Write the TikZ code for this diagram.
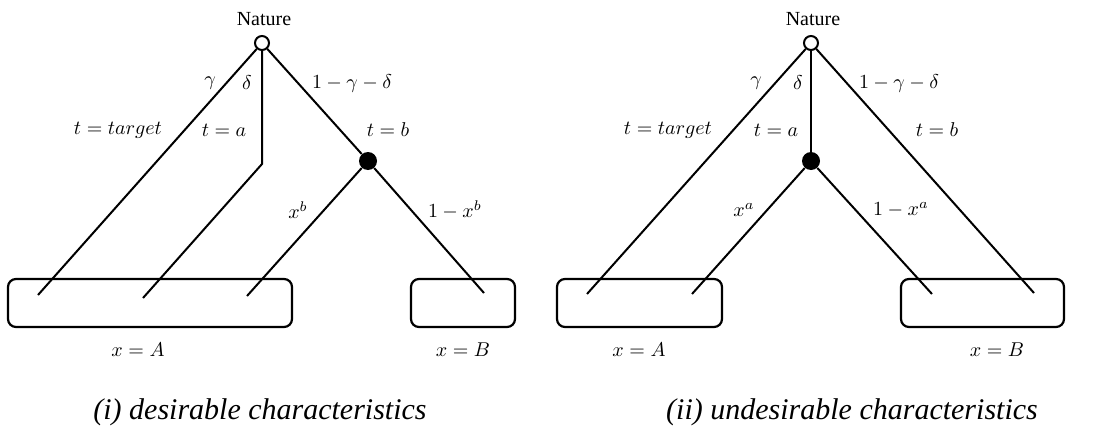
\documentclass[tikz,border=0pt]{standalone}
\usepackage{fontspec}
\setmainfont{Liberation Serif}
\usepackage{tikz}

\tikzset{
  chance/.style={circle, draw, fill=white, line width=1pt, minimum size=7pt, inner sep=0pt},
  decision/.style={circle, fill=black, minimum size=9pt, inner sep=0pt},
  infoset/.style={rectangle, rounded corners=4pt, draw, line width=1.1pt, minimum height=24pt},
  branch/.style={line width=1pt},
  lbl/.style={inner sep=1pt, font=\normalsize},
  caption/.style={font=\fontsize{15}{18}\selectfont\itshape}
}

\begin{document}
\begin{tikzpicture}[x=0.5pt, y=-0.5pt]
    \useasboundingbox (0,0) rectangle (1104,428);

    % Information sets (drawn first, branches end inside)
    \node[infoset, minimum width=142pt] (setA1) at (150,303) {};
    \node[infoset, minimum width=52pt] (setB1) at (463,303) {};
    \node[infoset, minimum width=82.5pt] (setA2) at (639.5,303) {};
    \node[infoset, minimum width=81.5pt] (setB2) at (982.5,303) {};

    % (i) desirable characteristics
    \node (natlbl1) at (264,19) {Nature};
    \node[chance] (nat1) at (262,43) {};
    \node[decision] (dec1) at (368,161) {};
    \coordinate (kink1) at (262,164);
    \coordinate (end11) at (38,295);
    \coordinate (end12) at (143,298);
    \coordinate (end13) at (247,296);
    \coordinate (end14) at (484,293);
    \draw[branch] (nat1) -- (end11);
    \draw[branch] (nat1) -- (kink1) -- (end12);
    \draw[branch] (nat1) -- (dec1);
    \draw[branch] (dec1) -- (end13);
    \draw[branch] (dec1) -- (end14);
    % Labels
    \node[lbl] (g1) at (210,83) {$\gamma$};
    \node[lbl] (d1) at (247,83) {$\delta$};
    \node[lbl] (r1) at (352,83) {$1-\gamma-\delta$};
    \node[lbl] (tt1) at (118,130) {$t=target$};
    \node[lbl] (ta1) at (224,130) {$t=a$};
    \node[lbl] (tb1) at (388,130) {$t=b$};
    \node[lbl] (xb1) at (298,210) {$x^b$};
    \node[lbl] (nxb1) at (455,210) {$1-x^b$};
    \node[lbl] (xA1) at (138,350) {$x=A$};
    \node[lbl] (xB1) at (463,350) {$x=B$};
    \node[caption] (cap1) at (260,412) {(i) desirable characteristics};

    % (ii) undesirable characteristics
    \node (natlbl2) at (813,19) {Nature};
    \node[chance] (nat2) at (811,43) {};
    \node[decision] (dec2) at (811,161) {};
    \coordinate (end21) at (587,294);
    \coordinate (end22) at (692,294);
    \coordinate (end23) at (932,294);
    \coordinate (end24) at (1034,293);
    \draw[branch] (nat2) -- (end21);
    \draw[branch] (nat2) -- (dec2);
    \draw[branch] (nat2) -- (end24);
    \draw[branch] (dec2) -- (end22);
    \draw[branch] (dec2) -- (end23);
    % Labels
    \node[lbl] (g2) at (756,83) {$\gamma$};
    \node[lbl] (d2) at (798,83) {$\delta$};
    \node[lbl] (r2) at (899,83) {$1-\gamma-\delta$};
    \node[lbl] (tt2) at (668,130) {$t=target$};
    \node[lbl] (ta2) at (776,130) {$t=a$};
    \node[lbl] (tb2) at (937,130) {$t=b$};
    \node[lbl] (xa2) at (744,210) {$x^a$};
    \node[lbl] (nxa2) at (901,210) {$1-x^a$};
    \node[lbl] (xA2) at (639,350) {$x=A$};
    \node[lbl] (xB2) at (997,350) {$x=B$};
    \node[caption] (cap2) at (852,412) {(ii) undesirable characteristics};
\end{tikzpicture}
\end{document}
